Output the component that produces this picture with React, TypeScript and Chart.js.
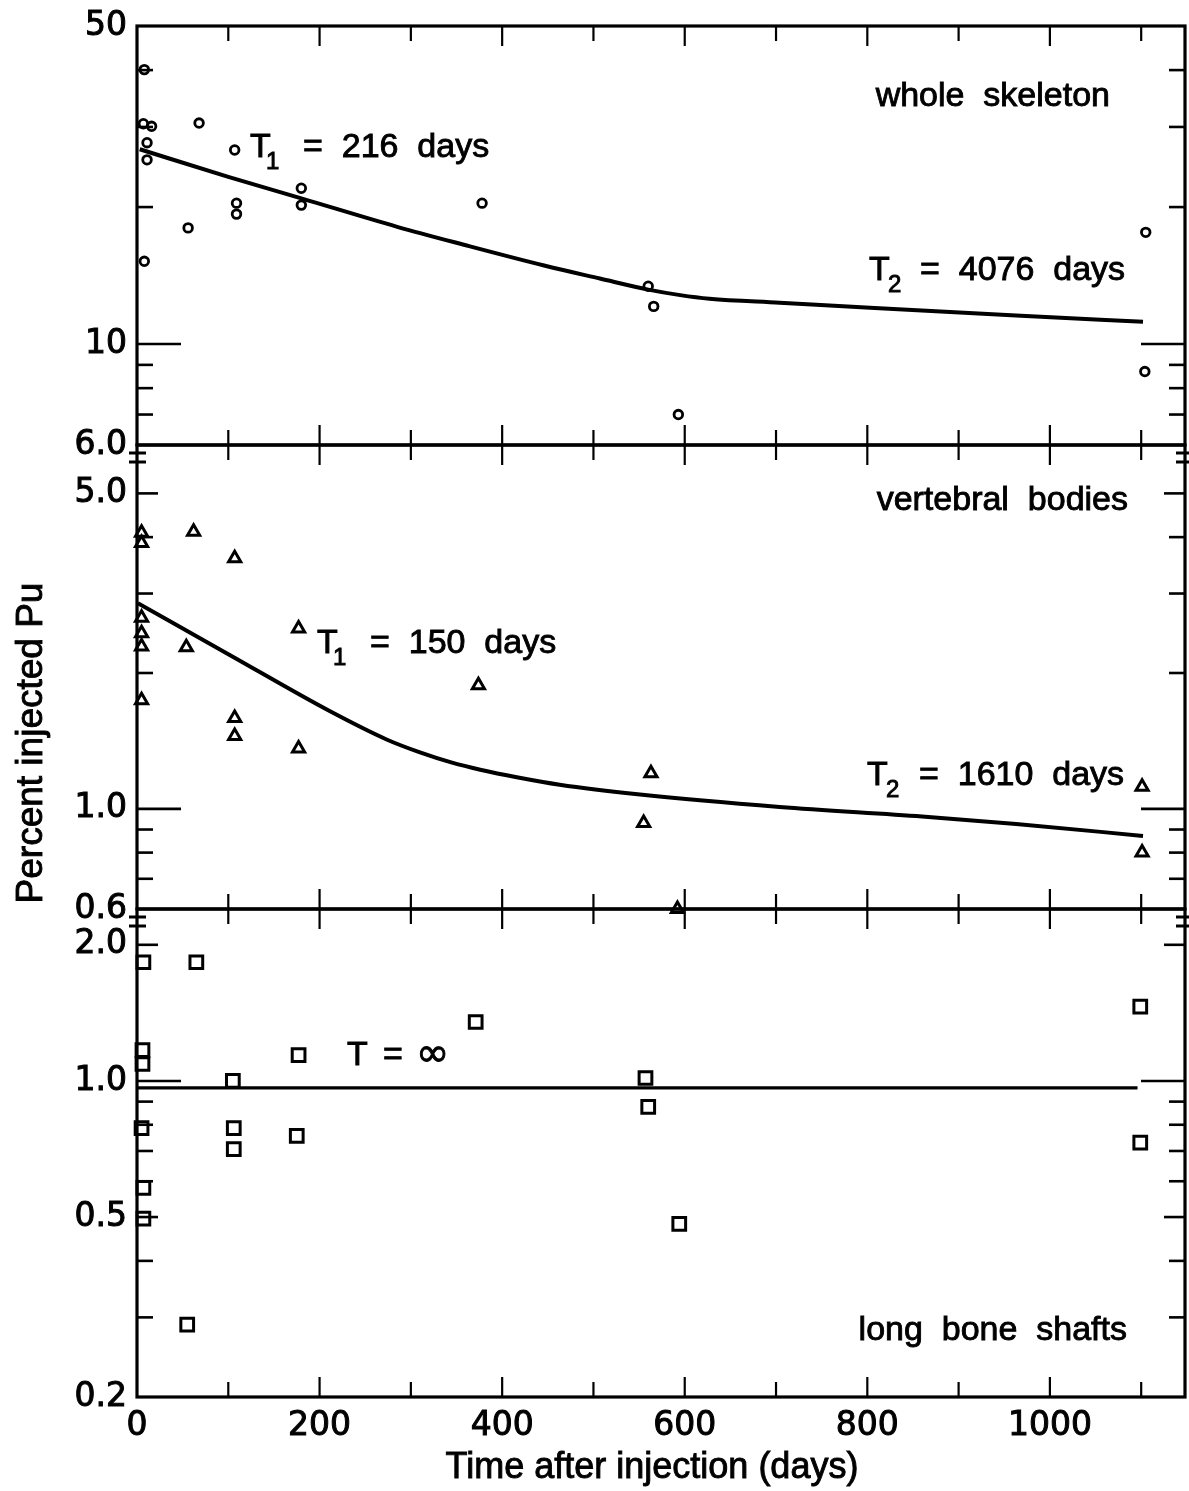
import React, { useEffect, useRef } from 'react';
import { Chart, registerables } from 'chart.js';

Chart.register(...registerables);

// ---------------- data ----------------
// x axis (days after injection)
const xMin = 0;
const xMax = 1148;
const xLabelValues = [0, 200, 400, 600, 800, 1000];
const xMarkValues = [100, 200, 300, 400, 500, 600, 700, 800, 900, 1000, 1100];

// panel 1: whole skeleton
const skeletonRange = [6, 50];
const skeletonLabelValues = [6, 10, 50];
const skeletonLabels = ['6.0', '10', '50'];
const skeletonMinorTicks = [7, 8, 9, 20, 30, 40];
const skeletonMediumTicks: number[] = [];
const skeletonMajorTicks = [10];
const skeletonDays = [8, 7, 16, 11, 11, 8, 68, 56, 107, 109, 109, 180, 180, 378, 560, 566, 593, 1105, 1104];
const skeletonValues = [40.1, 30.5, 30.1, 27.7, 25.4, 15.2, 30.6, 18.0, 26.7, 20.4, 19.3, 22.0, 20.2, 20.4, 13.4, 12.1, 7.0, 17.6, 8.7];
const skeletonFitDays = [3, 100, 180, 285, 357, 446, 507, 560, 595, 627, 704, 808, 963, 1102];
const skeletonFitValues = [26.8, 23.3, 20.9, 18.1, 16.55, 14.88, 13.93, 13.17, 12.81, 12.58, 12.33, 12.0, 11.55, 11.2];

// panel 2: vertebral bodies
const vertebralRange = [0.6, 6.4];
const vertebralLabelValues = [0.6, 1, 5];
const vertebralLabels = ['0.6', '1.0', '5.0'];
const vertebralMinorTicks = [0.7, 0.8, 0.9, 2, 3, 4];
const vertebralMediumTicks = [5];
const vertebralMajorTicks = [1];
const vertebralDays = [5, 5, 62, 107, 5, 5, 5, 5, 54, 177, 374, 107, 107, 177, 563, 555, 592, 1101, 1101];
const vertebralValues = [4.09, 3.88, 4.11, 3.59, 2.65, 2.45, 2.29, 1.74, 2.28, 2.51, 1.88, 1.59, 1.45, 1.36, 1.2, 0.93, 0.6, 1.12, 0.8];
const vertebralFitDays = [1, 102, 211, 274, 310, 346, 376, 416, 463, 551, 704, 860, 963, 1102];
const vertebralFitValues = [2.855, 2.19, 1.647, 1.423, 1.334, 1.264, 1.221, 1.175, 1.131, 1.076, 1.01, 0.962, 0.926, 0.871];

// panel 3: long bone shafts
const longBoneRange = [0.2, 2.4];
const longBoneLabelValues = [0.2, 0.5, 1, 2];
const longBoneLabels = ['0.2', '0.5', '1.0', '2.0'];
const longBoneMinorTicks = [0.3, 0.4, 0.6, 0.7, 0.8, 0.9];
const longBoneMediumTicks = [0.5, 2];
const longBoneMajorTicks = [1];
const longBoneDays = [7, 65, 6, 6, 105, 177, 371, 557, 560, 594, 1099, 5, 106, 106, 175, 7, 7, 55, 1099];
const longBoneValues = [1.83, 1.83, 1.17, 1.09, 1.0, 1.14, 1.35, 1.015, 0.876, 0.483, 1.46, 0.786, 0.786, 0.707, 0.756, 0.58, 0.496, 0.289, 0.73];
const longBoneFitDays = [0, 1096];
const longBoneFitValues = [0.965, 0.965];

// ---------------- styling ----------------
const FONT_LABEL = '"Liberation Sans", Arial, Helvetica, sans-serif';
const FONT_TICK = '"DejaVu Sans", sans-serif';

const toPoints = (xs: number[], ys: number[]) => xs.map((d, i) => ({ x: d, y: ys[i] }));

function yScale(range: number[], labelValues: number[], labels: string[], weight: number, stackWeight: number) {
  return {
    type: 'logarithmic',
    position: 'left',
    stack: 'panels',
    stackWeight,
    weight,
    min: range[0],
    max: range[1],
    bounds: 'data',
    grid: { display: false, drawTicks: false },
    border: { display: false },
    afterBuildTicks: (s: any) => {
      s.ticks = labelValues.map((v) => ({ value: v }));
    },
    afterFit: (s: any) => {
      s.width = 137;
      s.paddingTop = 0;
      s.paddingBottom = 0;
    },
    ticks: {
      autoSkip: false,
      padding: 10,
      color: '#000',
      textStrokeColor: '#000',
      textStrokeWidth: 1,
      font: { family: FONT_TICK, size: 33 },
      callback: (_v: any, i: number) => labels[i],
    },
  };
}

const panels = [
  { id: 'y1', minor: skeletonMinorTicks, medium: skeletonMediumTicks, major: skeletonMajorTicks },
  { id: 'y2', minor: vertebralMinorTicks, medium: vertebralMediumTicks, major: vertebralMajorTicks },
  { id: 'y3', minor: longBoneMinorTicks, medium: longBoneMediumTicks, major: longBoneMajorTicks },
];

function text(ctx: CanvasRenderingContext2D, s: string, x: number, y: number) {
  ctx.fillText(s, x, y);
  ctx.strokeText(s, x, y);
}

function drawT(ctx: CanvasRenderingContext2D, x: number, base: number, sub: string, subX: number, rest: string, restX: number) {
  ctx.textAlign = 'left';
  ctx.textBaseline = 'alphabetic';
  ctx.font = `34px ${FONT_LABEL}`;
  text(ctx, 'T', x, base);
  ctx.font = `24px ${FONT_LABEL}`;
  text(ctx, sub, subX, base + 12);
  ctx.font = `34px ${FONT_LABEL}`;
  text(ctx, rest, restX, base);
}

const panelPlugin = {
  id: 'panelFrames',
  afterDraw(chart: any) {
    const ctx: CanvasRenderingContext2D = chart.ctx;
    const xs = chart.scales.x;
    const left = chart.chartArea.left;
    const right = chart.chartArea.right;
    ctx.save();
    ctx.strokeStyle = '#000';
    ctx.fillStyle = '#000';
    const seg = (x1: number, y1: number, x2: number, y2: number) => {
      ctx.beginPath();
      ctx.moveTo(x1, y1);
      ctx.lineTo(x2, y2);
      ctx.stroke();
    };
    panels.forEach((p, idx) => {
      const s = chart.scales[p.id];
      const top = s.top;
      const bottom = s.bottom;
      ctx.lineWidth = 3.2;
      ctx.strokeRect(left, top, right - left, bottom - top);
      ctx.lineWidth = 2.2;
      xMarkValues.forEach((v) => {
        const px = xs.getPixelForValue(v);
        const len = v % 200 === 0 ? 20 : 15;
        seg(px, top, px, top + len);
        seg(px, bottom, px, bottom - len);
      });
      ctx.lineWidth = 2.6;
      const yTick = (vals: number[], len: number) =>
        vals.forEach((v) => {
          const py = s.getPixelForValue(v);
          seg(left, py, left + len, py);
          seg(right, py, right - len, py);
        });
      yTick(p.minor, 16);
      yTick(p.medium, 21);
      yTick(p.major, 44);
      if (idx > 0) {
        ctx.lineWidth = 3;
        [8, 17].forEach((off) => {
          seg(left - 8, top + off, left + 9, top + off);
          seg(right - 9, top + off, right + 4, top + off);
        });
      }
    });

    // panel annotations
    ctx.lineWidth = 0.9;
    ctx.textBaseline = 'alphabetic';
    ctx.font = `34px ${FONT_LABEL}`;
    ctx.textAlign = 'right';
    text(ctx, 'whole  skeleton', 1110, 106);
    text(ctx, 'vertebral  bodies', 1128, 510);
    text(ctx, 'long  bone  shafts', 1127, 1340);

    drawT(ctx, 250, 157, '1', 266, '=  216  days', 303);
    drawT(ctx, 869, 280, '2', 888, '=  4076  days', 920);
    drawT(ctx, 317, 653, '1', 333, '=  150  days', 370);
    drawT(ctx, 867, 785, '2', 886, '=  1610  days', 919);

    ctx.textAlign = 'left';
    ctx.font = `34px ${FONT_LABEL}`;
    text(ctx, 'T', 347, 1065);
    text(ctx, '=', 383, 1065);
    ctx.font = `40px ${FONT_TICK}`;
    text(ctx, '\u221E', 416, 1066);

    // axis titles
    ctx.font = `36px ${FONT_LABEL}`;
    ctx.textAlign = 'center';
    text(ctx, 'Time after injection (days)', 652, 1478);
    ctx.save();
    ctx.translate(42, 743);
    ctx.rotate(-Math.PI / 2);
    ctx.font = `37px ${FONT_LABEL}`;
    text(ctx, 'Percent injected Pu', 0, 0);
    ctx.restore();

    ctx.restore();
  },
};

export default function App() {
  const canvasRef = useRef<HTMLCanvasElement | null>(null);

  useEffect(() => {
    if (!canvasRef.current) return;
    const pointBase = {
      showLine: false,
      pointBorderColor: '#000',
      pointBackgroundColor: 'rgba(0,0,0,0)',
      pointBorderWidth: 3,
      clip: false,
    };
    const lineBase = {
      showLine: true,
      pointRadius: 0,
      borderColor: '#000',
      borderWidth: 4,
      cubicInterpolationMode: 'monotone',
    };
    const chart = new Chart(canvasRef.current, {
      type: 'scatter',
      data: {
        datasets: [
          { ...pointBase, label: 'whole skeleton', data: toPoints(skeletonDays, skeletonValues), yAxisID: 'y1', pointStyle: 'circle', pointRadius: 4.3, pointBorderWidth: 2.8 },
          { ...lineBase, label: 'whole skeleton fit', data: toPoints(skeletonFitDays, skeletonFitValues), yAxisID: 'y1' },
          { ...pointBase, label: 'vertebral bodies', data: toPoints(vertebralDays, vertebralValues), yAxisID: 'y2', pointStyle: 'triangle', pointRadius: 7 },
          { ...lineBase, label: 'vertebral bodies fit', data: toPoints(vertebralFitDays, vertebralFitValues), yAxisID: 'y2' },
          { ...pointBase, label: 'long bone shafts', data: toPoints(longBoneDays, longBoneValues), yAxisID: 'y3', pointStyle: 'rect', pointRadius: 9 },
          { ...lineBase, label: 'long bone shafts fit', data: toPoints(longBoneFitDays, longBoneFitValues), yAxisID: 'y3', borderWidth: 3.2 },
        ] as any,
      },
      options: {
        responsive: false,
        maintainAspectRatio: false,
        devicePixelRatio: 1,
        animation: false,
        layout: { autoPadding: false, padding: { top: 26, right: 4, bottom: 0, left: 0 } },
        plugins: { legend: { display: false }, tooltip: { enabled: false } },
        scales: {
          x: {
            type: 'linear',
            position: 'bottom',
            min: xMin,
            max: xMax,
            grid: { display: false, drawTicks: false },
            border: { display: false },
            afterBuildTicks: (s: any) => {
              s.ticks = xLabelValues.map((v) => ({ value: v }));
            },
            afterFit: (s: any) => {
              s.height = 94;
              s.paddingLeft = 0;
              s.paddingRight = 0;
            },
            ticks: {
              autoSkip: false,
              maxRotation: 0,
              minRotation: 0,
              padding: 10,
              color: '#000',
              textStrokeColor: '#000',
              textStrokeWidth: 1,
              font: { family: FONT_TICK, size: 33 },
              callback: (_v: any, i: number) => String(xLabelValues[i]),
            },
          },
          y1: yScale(skeletonRange, skeletonLabelValues, skeletonLabels, 3, 419),
          y2: yScale(vertebralRange, vertebralLabelValues, vertebralLabels, 2, 464),
          y3: yScale(longBoneRange, longBoneLabelValues, longBoneLabels, 1, 488),
        } as any,
      },
      plugins: [panelPlugin],
    });
    return () => chart.destroy();
  }, []);

  return (
    <div style={{ position: 'fixed', left: 0, top: 0, width: 1189, height: 1491, background: '#fff' }}>
      <canvas ref={canvasRef} width={1189} height={1491} style={{ display: 'block' }} />
    </div>
  );
}
